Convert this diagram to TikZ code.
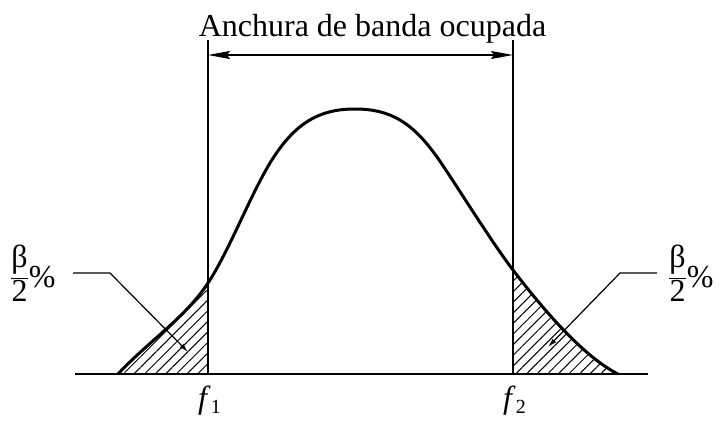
\documentclass[tikz,border=0pt]{standalone}
\usepackage{fontspec}
\setmainfont{Liberation Serif}
\usetikzlibrary{arrows.meta,patterns.meta}
\tikzset{
  curve/.style={line width=3pt, line join=round},
  base/.style={line width=2.8pt},
  vline/.style={line width=1.3pt},
  leader/.style={line width=1.2pt, -{Latex[length=9pt,width=5pt]}},
  hatch/.style={pattern={Lines[angle=45,distance=7.5pt,line width=1pt]}},
  lab/.style={inner sep=0pt, font=\fontsize{32}{38}\selectfont},
}
\newcommand{\betafrac}{$\displaystyle\frac{\hbox{β}}{\hbox{2}}$\raisebox{-3pt}{\%}}
\begin{document}
\begin{tikzpicture}[x=1pt,y=-1pt]
\useasboundingbox (0,0) rectangle (723,423);
\def\curvepath{(118,374) .. controls (150,340) and (185,318) .. (208,283)
  .. controls (228,253) and (250,196) .. (270,163)
  .. controls (295,122) and (320,109) .. (355,109)
  .. controls (390,109) and (412,122) .. (437,157)
  .. controls (452,178) and (490,240) .. (513,270)
  .. controls (536,300) and (580,355) .. (618,374)}
% hatching
\begin{scope}
  \clip (0,0) rectangle (208,374);
  \fill[hatch] \curvepath -- cycle;
\end{scope}
\begin{scope}
  \clip (513,0) rectangle (723,374);
  \fill[hatch] \curvepath -- cycle;
\end{scope}
% coordinates
\coordinate (b1) at (75,374);
\coordinate (b2) at (648,374);
\coordinate (v1t) at (208,40);
\coordinate (v1b) at (208,374);
\coordinate (v2t) at (513,40);
\coordinate (v2b) at (513,374);
\coordinate (a1) at (208,55);
\coordinate (a2) at (513,55);
% lines
\draw[vline] (v1t) -- (v1b);
\draw[vline] (v2t) -- (v2b);
\draw[curve] \curvepath;
\draw[base] (b1) -- (b2);
\draw[line width=1.3pt, {Stealth[length=22pt,width=8pt,inset=3pt]}-{Stealth[length=22pt,width=8pt,inset=3pt]}] (a1) -- (a2);
% labels
\node[lab, anchor=base] (title) at (372.5,36) {Anchura de banda ocupada};
\node[lab, anchor=base west] (bl) at (10,284) {\betafrac};
\node[lab, anchor=base west] (br) at (668,284) {\betafrac};
\node[lab, anchor=base west] (f1) at (198,408) {\textit{f}\raisebox{-5pt}{\fontsize{20}{24}\selectfont 1}};
\node[lab, anchor=base west] (f2) at (503,408) {\textit{f}\raisebox{-5pt}{\fontsize{20}{24}\selectfont 2}};
% leaders
\coordinate (l1a) at (73,273);
\coordinate (l1b) at (110,273);
\coordinate (l1c) at (188,352);
\coordinate (l2a) at (657,273);
\coordinate (l2b) at (620,273);
\coordinate (l2c) at (548,347);
\draw[leader] (l1a) -- (l1b) -- (l1c);
\draw[leader] (l2a) -- (l2b) -- (l2c);
\end{tikzpicture}
\end{document}
